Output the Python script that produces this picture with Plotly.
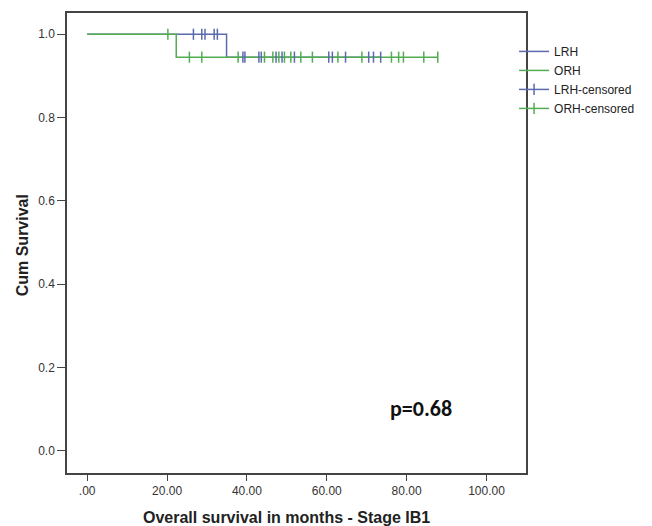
import plotly.graph_objects as go

# ---- data ----
lrh_event_times = [34.9]
lrh_event_surv = [0.945]
lrh_end_time = 73.5
lrh_censor = [26.6, 28.7, 29.5, 31.8, 32.6, 39.0, 39.5, 43.0, 43.6, 47.3, 48.8,
              51.9, 60.5, 61.4, 64.7, 70.5, 71.7, 73.5]

orh_event_times = [22.3]
orh_event_surv = [0.945]
orh_end_time = 87.8
orh_censor = [20.2, 25.6, 28.7, 37.8, 44.4, 46.5, 48.0, 49.4, 51.0, 53.5, 56.4,
              62.8, 68.8, 76.2, 78.0, 79.2, 84.3, 87.8]

x_tickvals = [0, 20, 40, 60, 80, 100]
x_ticktext = [".00", "20.00", "40.00", "60.00", "80.00", "100.00"]
y_tickvals = [0.0, 0.2, 0.4, 0.6, 0.8, 1.0]
y_ticktext = ["0.0", "0.2", "0.4", "0.6", "0.8", "1.0"]

BLUE = "#5b6aae"
GREEN = "#52ad52"


def step_curve(ev_t, ev_s, end_t):
    xs, ys = [0.0], [1.0]
    for t, s in zip(ev_t, ev_s):
        xs.append(t)
        ys.append(s)
    xs.append(end_t)
    ys.append(ys[-1])
    return xs, ys


def surv_at(t, ev_t, ev_s):
    s = 1.0
    for et, es in zip(ev_t, ev_s):
        if t >= et:
            s = es
    return s


def censor_points(times, ev_t, ev_s):
    # isolated points separated by gaps so no connecting line is drawn,
    # but the legend shows a line with a crossing tick
    xs, ys = [], []
    for t in times:
        xs += [t, None]
        ys += [surv_at(t, ev_t, ev_s), None]
    return xs, ys


fig = go.Figure()

lx, ly = step_curve(lrh_event_times, lrh_event_surv, lrh_end_time)
ox, oy = step_curve(orh_event_times, orh_event_surv, orh_end_time)

fig.add_trace(go.Scatter(x=lx, y=ly, mode="lines", line=dict(color=BLUE, width=1.5, shape="hv"),
                         name="LRH"))
fig.add_trace(go.Scatter(x=ox, y=oy, mode="lines", line=dict(color=GREEN, width=1.5, shape="hv"),
                         name="ORH"))
cx, cy = censor_points(lrh_censor, lrh_event_times, lrh_event_surv)
fig.add_trace(go.Scatter(x=cx, y=cy, mode="lines+markers", connectgaps=False,
                         line=dict(color=BLUE, width=1.5),
                         marker=dict(symbol="line-ns", size=8, line=dict(color=BLUE, width=1.5)),
                         name="LRH-censored"))
cx, cy = censor_points(orh_censor, orh_event_times, orh_event_surv)
fig.add_trace(go.Scatter(x=cx, y=cy, mode="lines+markers", connectgaps=False,
                         line=dict(color=GREEN, width=1.5),
                         marker=dict(symbol="line-ns", size=8, line=dict(color=GREEN, width=1.5)),
                         name="ORH-censored"))

axis_common = dict(showline=True, linecolor="#444444", linewidth=1.5, mirror=True,
                   ticks="outside", tickcolor="#444444", showgrid=False, zeroline=False,
                   tickfont=dict(family="Liberation Sans, Arial", size=12, color="#333333"))

fig.update_xaxes(range=[-5.06, 109.9], tickvals=x_tickvals, ticktext=x_ticktext, ticklen=6, **axis_common)
fig.update_yaxes(range=[-0.053, 1.051], tickvals=y_tickvals, ticktext=y_ticktext, ticklen=8, **axis_common)

fig.add_annotation(text="<b>Overall survival in months - Stage IB1</b>", xref="paper", yref="paper",
                   x=0.478, y=-0.096, showarrow=False, xanchor="center", yanchor="middle",
                   font=dict(family="Liberation Sans, Arial", size=16, color="#222222"))
fig.add_annotation(text="<b>Cum Survival</b>", xref="paper", yref="paper",
                   x=-0.097, y=0.496, showarrow=False, textangle=-90, xanchor="center", yanchor="middle",
                   font=dict(family="Liberation Sans, Arial", size=16, color="#222222"))
fig.add_annotation(text="<b>p=0.68</b>", xref="x", yref="y", x=83.7, y=0.103, showarrow=False,
                   xanchor="center", yanchor="middle",
                   font=dict(family="Carlito, Liberation Sans, Arial", size=22, color="#111111"))

fig.update_layout(
    width=652, height=526,
    margin=dict(l=67, r=121, t=13, b=53),
    paper_bgcolor="white", plot_bgcolor="white",
    showlegend=True,
    legend=dict(x=0.974, y=0.948, xanchor="left", yanchor="top", tracegroupgap=0,
                font=dict(family="Liberation Sans, Arial", size=12, color="#222222"),
                itemwidth=30, bgcolor="rgba(0,0,0,0)"),
)

fig.write_html("out.html")
